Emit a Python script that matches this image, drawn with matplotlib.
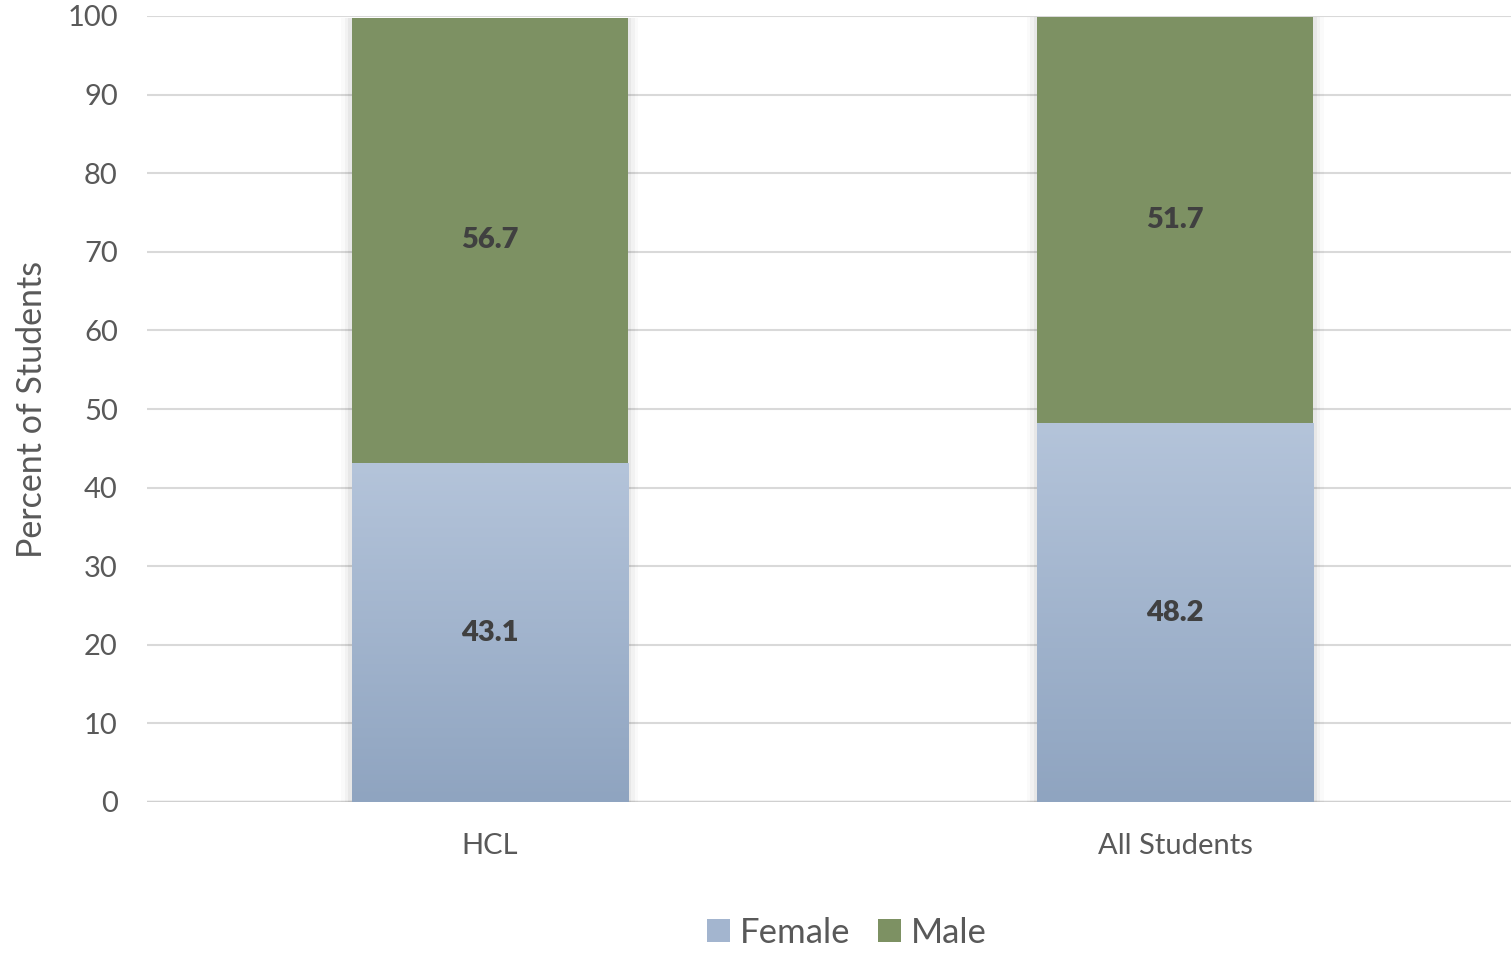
import matplotlib
matplotlib.use("Agg")
import matplotlib.pyplot as plt
import numpy as np
from matplotlib.patches import Rectangle, Patch
from matplotlib.colors import LinearSegmentedColormap

plt.rcParams['font.family'] = ['Lato', 'DejaVu Sans']

categories = ["HCL", "All Students"]
female = [43.1, 48.2]
male = [56.7, 51.7]
yticks = [0, 10, 20, 30, 40, 50, 60, 70, 80, 90, 100]

green = "#7D9163"
blue_top = "#B4C4DA"
blue_bot = "#8FA4C0"
text_col = "#595959"

fig = plt.figure(figsize=(15.11, 9.58), dpi=100)
ax = fig.add_axes([147/1511, (958-802)/958, 1 - 147/1511, (802-16)/958])
x = np.arange(len(categories))
width = 0.403

# soft shadows
for xi, (f, m) in enumerate(zip(female, male)):
    for k, a in enumerate([0.045, 0.03, 0.02]):
        pad = 0.005 * (k + 1)
        ax.add_patch(Rectangle((xi - width/2 - pad, -0.3 - 0.3*k), width + 2*pad, f + m + 0.3 + 0.3*k,
                               facecolor="black", alpha=a, edgecolor="none", zorder=1.5))

fb = ax.bar(x, female, width, color=blue_bot, label="Female", zorder=2)
mb = ax.bar(x, male, width, bottom=female, color=green, label="Male", zorder=2)

cmap = LinearSegmentedColormap.from_list("fg", [blue_bot, blue_top])
grad = np.linspace(0, 1, 256).reshape(-1, 1)
for rect in fb:
    x0, y0 = rect.get_x(), rect.get_y()
    w, h = rect.get_width(), rect.get_height()
    im = ax.imshow(grad, cmap=cmap, aspect='auto', origin='lower',
                   extent=[x0, x0 + w, y0, y0 + h], zorder=2.1)
    im.set_clip_path(rect)

for xi, (f, m) in enumerate(zip(female, male)):
    ax.text(xi, f / 2, f"{f}", ha='center', va='center', fontsize=21, fontweight='heavy', color="#404040", zorder=3)
    ax.text(xi, f + m / 2, f"{m}", ha='center', va='center', fontsize=21, fontweight='heavy', color="#404040", zorder=3)

ax.set_xlim(-0.5, 1.49)
ax.set_ylim(0, 100)
ax.set_yticks(yticks)
ax.set_xticks(x)
ax.set_xticklabels(categories)
ax.tick_params(axis='both', length=0, labelsize=21, colors=text_col)
ax.tick_params(axis='x', pad=22)
ax.tick_params(axis='y', pad=21)
for s in ax.spines.values():
    s.set_visible(False)
ax.yaxis.grid(True, color="#D9D9D9", linewidth=1.5, zorder=0)
ax.axhline(0, color="#D0D0D0", linewidth=2.5, zorder=1)
ax.set_axisbelow(True)
ax.set_ylabel("Percent of Students", fontsize=24.5, color=text_col, labelpad=14)

handles = [Patch(facecolor="#A3B5CF", label="Female"), Patch(facecolor=green, label="Male")]
fig.legend(handles=handles, loc='center', bbox_to_anchor=(847/1511, 1 - 933/958), ncol=2,
           frameon=False, fontsize=25, handlelength=0.65, handleheight=0.65, handletextpad=0.3,
           columnspacing=0.8, labelcolor=text_col)

fig.savefig("out.png", dpi=100)
